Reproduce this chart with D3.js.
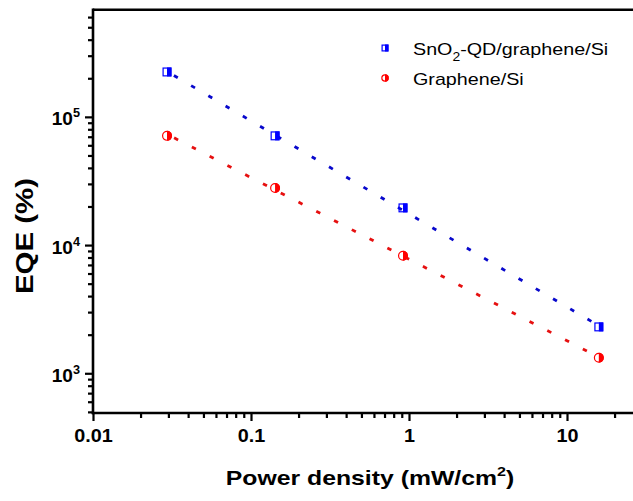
<!DOCTYPE html>
<html>
<head>
<meta charset="utf-8">
<script src="https://cdn.jsdelivr.net/npm/d3@7"></script>
<style>
  body { margin: 0; background: #fff; }
  svg { display: block; font-family: "Liberation Sans", Arial, sans-serif; }
</style>
</head>
<body>
<div id="chart"></div>
<script>
// power density (mW/cm^2)
const power = [0.0294, 0.142, 0.916, 15.9];
// EQE (%) for each device
const eqeSnO2 = [2.24e5, 7.11e4, 1.95e4, 2.30e3];
const eqeGraphene = [7.11e4, 2.79e4, 8.25e3, 1.32e3];

const xMajor = [0.01, 0.1, 1, 10];
const xMinor = [0.02, 0.03, 0.04, 0.05, 0.06, 0.07, 0.08, 0.09,
  0.2, 0.3, 0.4, 0.5, 0.6, 0.7, 0.8, 0.9, 2, 3, 4, 5, 6, 7, 8, 9, 20];
const yMajor = [1e3, 1e4, 1e5];
const yMinor = [500, 600, 700, 800, 900, 2e3, 3e3, 4e3, 5e3, 6e3, 7e3, 8e3, 9e3,
  2e4, 3e4, 4e4, 5e4, 6e4, 7e4, 8e4, 9e4, 2e5, 3e5, 4e5, 5e5, 6e5];
const xTickLabels = ['0.01', '0.1', '1', '10'];

const series = [
  { name: 'SnO2', values: eqeSnO2, color: '#0000ff', line: '#0808cc', shape: 'square' },
  { name: 'Graphene', values: eqeGraphene, color: '#ff0000', line: '#e61010', shape: 'circle' }
];

const W = 633, H = 501;
const svg = d3.select('#chart').append('svg')
  .attr('width', W).attr('height', H);

const x = d3.scaleLog().domain([0.01, 30]).range([93, 93 + 158 * Math.log10(3000)]);
const y = d3.scaleLog().domain([490, 6.84e5]).range([413, 9.8]);

// frame: top line (right side is cut off in the original)
svg.append('line')
  .attr('x1', x(0.01)).attr('x2', W + 5)
  .attr('y1', y.range()[1]).attr('y2', y.range()[1])
  .attr('stroke', '#000').attr('stroke-width', 2.6);

// x axis
const xAxisG = svg.append('g').attr('transform', `translate(0,${y.range()[0]})`);
xAxisG.append('g')
  .call(d3.axisBottom(x).tickValues(xMinor).tickSize(5).tickSizeOuter(0).tickFormat(''))
  .call(g => g.select('.domain').remove());
xAxisG.append('g')
  .call(d3.axisBottom(x).tickValues(xMajor).tickSize(8).tickSizeOuter(0).tickFormat((d, i) => xTickLabels[i]))
  .call(g => g.select('.domain').remove())
  .call(g => g.selectAll('text')
    .attr('y', 16).attr('dy', '0.71em')
    .attr('transform', 'scale(1.1,1)')
    .attr('font-size', 18).attr('font-weight', 'bold')
    .attr('font-family', '"Liberation Sans", Arial, sans-serif').attr('fill', '#000'));
xAxisG.append('line')
  .attr('x1', x(0.01) - 1.3).attr('x2', W + 5)
  .attr('stroke', '#000').attr('stroke-width', 2.6);
xAxisG.selectAll('.tick line').attr('stroke-width', 2.2);

// y axis
const yAxisG = svg.append('g').attr('transform', `translate(${x(0.01)},0)`);
yAxisG.append('g')
  .call(d3.axisLeft(y).tickValues(yMinor).tickSize(5).tickSizeOuter(0).tickFormat(''))
  .call(g => g.select('.domain').remove());
yAxisG.append('g')
  .call(d3.axisLeft(y).tickValues(yMajor).tickSize(8).tickSizeOuter(0).tickFormat(''))
  .call(g => g.select('.domain').remove())
  .call(g => g.selectAll('.tick').append('text')
    .attr('x', -13 / 1.06).attr('y', 8)
    .attr('transform', 'scale(1.06,1)')
    .attr('text-anchor', 'end')
    .attr('font-size', 18).attr('font-weight', 'bold').attr('fill', '#000')
    .each(function (d) {
      const t = d3.select(this);
      t.append('tspan').text('10');
      t.append('tspan').attr('dy', -8).attr('font-size', 12).text(Math.round(Math.log10(d)));
    }));
yAxisG.append('line')
  .attr('y1', y.range()[0] + 1.3).attr('y2', y.range()[1] - 1.3)
  .attr('stroke', '#000').attr('stroke-width', 2.6);
yAxisG.selectAll('.tick line').attr('stroke-width', 2.2);

// power-law fit in log-log space
function fit(xs, ys) {
  const lx = xs.map(Math.log10), ly = ys.map(Math.log10);
  const mx = d3.mean(lx), my = d3.mean(ly);
  const b = d3.sum(lx, (v, i) => (v - mx) * (ly[i] - my)) / d3.sum(lx, v => (v - mx) * (v - mx));
  const a = my - b * mx;
  return v => Math.pow(10, a + b * Math.log10(v));
}

const lineGen = d3.line().x(d => x(d[0])).y(d => y(d[1]));

series.forEach(s => {
  const f = fit(power, s.values);
  const ends = [power[0], power[power.length - 1]];
  svg.append('path')
    .attr('d', lineGen(ends.map(v => [v, f(v)])))
    .attr('fill', 'none')
    .attr('stroke', s.line)
    .attr('stroke-width', 2.8)
    .attr('stroke-dasharray', '4.5,15.5')
    .attr('stroke-dashoffset', -8);
});

function marker(g, shape, color, size) {
  const r = size / 2;
  if (shape === 'square') {
    g.append('rect').attr('x', 0).attr('y', -r).attr('width', r).attr('height', size).attr('fill', color);
    g.append('rect').attr('x', -r + 0.6).attr('y', -r + 0.6).attr('width', size - 1.2).attr('height', size - 1.2)
      .attr('fill', 'none').attr('stroke', color).attr('stroke-width', 1.2);
  } else {
    g.append('path').attr('d', `M0,${-r} A${r},${r} 0 0,1 0,${r} Z`).attr('fill', color);
    g.append('circle').attr('r', r - 0.6).attr('fill', 'none').attr('stroke', color).attr('stroke-width', 1.2);
  }
}

series.forEach(s => {
  s.values.forEach((v, i) => {
    const g = svg.append('g').attr('transform', `translate(${x(power[i])},${y(v)})`);
    marker(g, s.shape, s.color, s.shape === 'square' ? 9 : 10);
  });
});

// legend
const legend = svg.append('g').attr('font-size', 17).attr('fill', '#000');
const lg1 = legend.append('g').attr('transform', 'translate(385,48)');
marker(lg1, 'square', '#0000ff', 7);
const t1 = legend.append('text').attr('transform', 'translate(413,55) scale(1.16,1)');
t1.append('tspan').text('SnO');
t1.append('tspan').attr('dy', 6).attr('font-size', 12).text('2');
t1.append('tspan').attr('dy', -6).text('-QD/graphene/Si');
const lg2 = legend.append('g').attr('transform', 'translate(385,78)');
marker(lg2, 'circle', '#ff0000', 7.5);
legend.append('text').attr('transform', 'translate(413,85) scale(1.16,1)').text('Graphene/Si');

// axis titles
const xt = svg.append('text')
  .attr('transform', 'translate(370,485) scale(1.24,1)')
  .attr('text-anchor', 'middle')
  .attr('font-size', 20).attr('font-weight', 'bold');
xt.append('tspan').text('Power density (mW/cm');
xt.append('tspan').attr('dy', -9).attr('font-size', 13).text('2');
xt.append('tspan').attr('dy', 9).text(')');

svg.append('text')
  .attr('transform', 'translate(33,236) rotate(-90) scale(1.28,1)')
  .attr('text-anchor', 'middle')
  .attr('font-size', 23).attr('font-weight', 'bold')
  .text('EQE (%)');
</script>
</body>
</html>
